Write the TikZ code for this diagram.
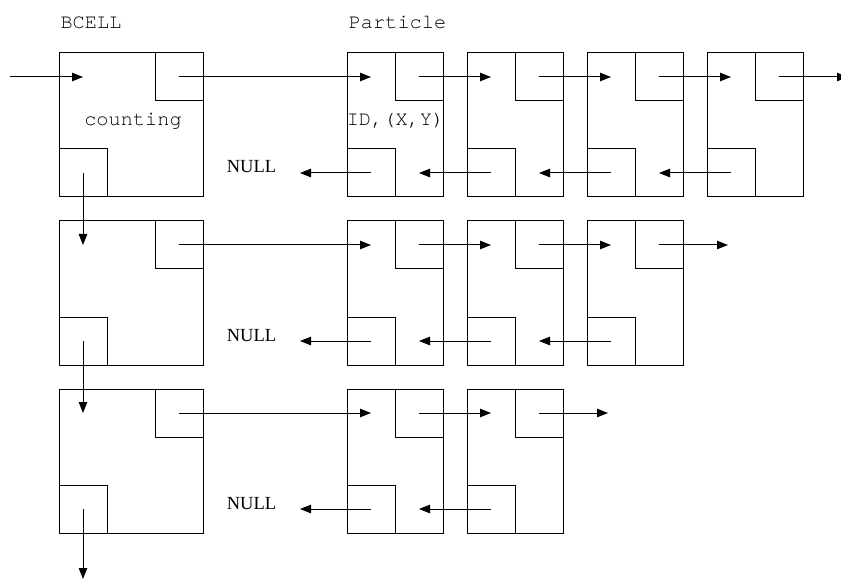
\documentclass[tikz,border=0pt]{standalone}
\usepackage{fontspec}
\setmonofont{texgyrecursor-regular.otf}
\newfontfamily\nulltextfont{Liberation Serif}
\usetikzlibrary{arrows.meta}
\begin{document}
\begin{tikzpicture}[x=1pt,y=-1pt, line width=1pt,
  cellbox/.style={draw, minimum width=144pt, minimum height=144pt, inner sep=0pt, outer sep=0pt},
  partbox/.style={draw, minimum width=96pt, minimum height=144pt, inner sep=0pt, outer sep=0pt},
  ptrbox/.style={draw, minimum width=48pt, minimum height=48pt, inner sep=0pt, outer sep=0pt},
  link/.style={-{Triangle[length=11pt,width=8.5pt]}},
  lbl/.style={font=\ttfamily\fontsize{20.3}{24}\selectfont, inner sep=0pt, anchor=base},
  nulllbl/.style={font=\nulltextfont\fontsize{18.5}{22}\selectfont, inner sep=0pt, anchor=base}]
\useasboundingbox (0,0) rectangle (841,580);
\foreach \r/\n in {0/4,1/3,2/2}{
  \node[cellbox] (b\r) at (131,125+168*\r) {};
  \node[ptrbox] (bn\r) at (179,77+168*\r) {};
  \node[ptrbox] (bd\r) at (83,173+168*\r) {};
  \coordinate (bin\r) at (83,77+168*\r);
  \node[nulllbl] (null\r) at (251.5,173+168*\r) {NULL};
  \coordinate (nullpt\r) at (300,173+168*\r);
  \coordinate (end\r) at (368+120*\n,77+168*\r);
  \foreach \k in {1,...,\n}{
    \node[partbox] (p\r-\k) at (275+120*\k,125+168*\r) {};
    \node[ptrbox] (pn\r-\k) at (299+120*\k,77+168*\r) {};
    \node[ptrbox] (pp\r-\k) at (251+120*\k,173+168*\r) {};
    \coordinate (pin\r-\k) at (251+120*\k,77+168*\r);
    \coordinate (pback\r-\k) at (299+120*\k,173+168*\r);
  }
}
\node[lbl] (bcell) at (91,29) {BCELL};
\node[lbl] (particle) at (397.5,29) {Particle};
\node[lbl] (cnt) at (133,126) {counting};
\node[lbl] (id) at (395.5,125.5) {ID,(X,Y)};
\coordinate (start) at (10,77);
\coordinate (bottom) at (83,579);
\draw[link] (start) -- (bin0);
\foreach \r in {0,1,2}{
  \draw[link] (bn\r.center) -- (pin\r-1);
  \draw[link] (pp\r-1.center) -- (nullpt\r);
}
\draw[link] (pn0-4.center) -- (end0);
\draw[link] (pn1-3.center) -- (end1);
\draw[link] (pn2-2.center) -- (end2);
\foreach \r/\k/\j in {0/1/2,0/2/3,0/3/4,1/1/2,1/2/3,2/1/2}{
  \draw[link] (pn\r-\k.center) -- (pin\r-\j);
  \draw[link] (pp\r-\j.center) -- (pback\r-\k);
}
\draw[link] (bd0.center) -- (bin1);
\draw[link] (bd1.center) -- (bin2);
\draw[link] (bd2.center) -- (bottom);
\end{tikzpicture}
\end{document}
